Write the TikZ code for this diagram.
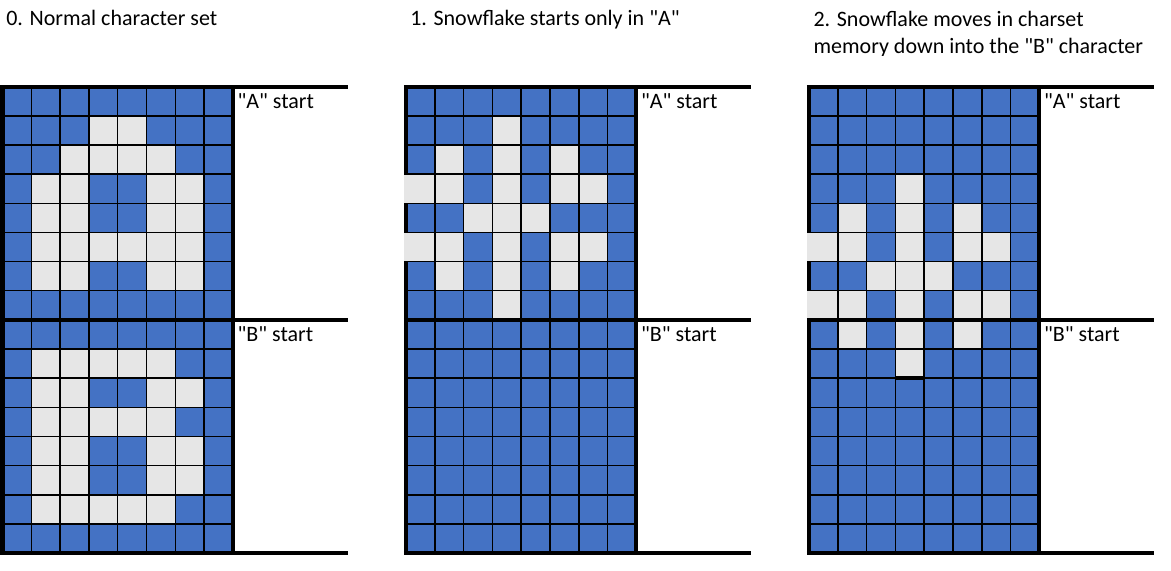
\documentclass[tikz,border=0pt]{standalone}
\usepackage{fontspec}
\newfontfamily\carl{Carlito}
\definecolor{cblue}{HTML}{4472C4}
\definecolor{clight}{HTML}{E6E6E6}
\newcommand\cw{28.8}
\newcommand\ch{29.15}
\newcommand\gtop{86.7}
\newcommand\lcell[3]{%
  \pgfmathsetmacro\xa{#1+#2*\cw-(#2==0)*2.0}%
  \pgfmathsetmacro\xb{#1+(#2+1)*\cw}%
  \pgfmathsetmacro\ya{\gtop+#3*\ch}%
  \pgfmathsetmacro\yb{\gtop+(#3+1)*\ch}%
  \fill[clight] (\xa,\ya) rectangle (\xb,\yb);}
\newcommand\gridbase[1]{%
  \fill[cblue] (#1,\gtop) rectangle ({#1+8*\cw},{\gtop+16*\ch});
  \draw[thickline] (#1,\gtop) -- (#1,{\gtop+16*\ch});}
\newcommand\gridlines[1]{%
  \foreach \c in {1,...,7} \draw[thinline] ({#1+\c*\cw},\gtop) -- ({#1+\c*\cw},{\gtop+16*\ch});
  \foreach \r in {1,...,7,9,10,...,15} \draw[thinline] ({#1-2.0},{\gtop+\r*\ch}) -- ({#1+8*\cw},{\gtop+\r*\ch});
  \foreach \r in {0,8,16} \draw[thickline] ({#1-2.2},{\gtop+\r*\ch}) -- ({#1+345},{\gtop+\r*\ch});
  \draw[thickline] ({#1+8*\cw},{\gtop-1.5}) -- ({#1+8*\cw},{\gtop+16*\ch+1.5});}
\begin{document}
\begin{tikzpicture}[x=0.75pt,y=-0.75pt,
  thinline/.style={line width=1.1pt,black},
  thickline/.style={line width=3pt,black},
  lbl/.style={anchor=base west,inner sep=0pt,font=\carl\fontsize{16.5}{20}\selectfont}]
\useasboundingbox (0,0) rectangle (1171,571);
% grid 0
\gridbase{2.5}
\foreach \c/\r in {3/1,4/1,2/2,3/2,4/2,5/2,1/3,2/3,5/3,6/3,1/4,2/4,5/4,6/4,1/5,2/5,3/5,4/5,5/5,6/5,1/6,2/6,5/6,6/6,
  1/9,2/9,3/9,4/9,5/9,1/10,2/10,5/10,6/10,1/11,2/11,3/11,4/11,5/11,1/12,2/12,5/12,6/12,1/13,2/13,5/13,6/13,1/14,2/14,3/14,4/14,5/14}
  {\lcell{2.5}{\c}{\r}}
\gridlines{2.5}
% grid 1
\gridbase{406}
\foreach \c/\r in {3/1,1/2,3/2,5/2,0/3,1/3,3/3,5/3,6/3,2/4,3/4,4/4,0/5,1/5,3/5,5/5,6/5,1/6,3/6,5/6,3/7}
  {\lcell{406}{\c}{\r}}
\gridlines{406}
% grid 2
\gridbase{809}
\foreach \c/\r in {3/1,1/2,3/2,5/2,0/3,1/3,3/3,5/3,6/3,2/4,3/4,4/4,0/5,1/5,3/5,5/5,6/5,1/6,3/6,5/6,3/7}
  {\pgfmathtruncatemacro\rr{\r+2}\lcell{809}{\c}{\rr}}
\gridlines{809}
\draw[thickline] ({809+3*\cw},{\gtop+10*\ch}) -- ({809+4*\cw},{\gtop+10*\ch});
% labels
\node[lbl] (a0) at (237.3,108) {"A" start};
\node[lbl] (b0) at (237.3,341.5) {"B" start};
\node[lbl] (a1) at (640.8,108) {"A" start};
\node[lbl] (b1) at (640.8,341.5) {"B" start};
\node[lbl] (a2) at (1043.8,108) {"A" start};
\node[lbl] (b2) at (1043.8,341.5) {"B" start};
% titles
\node[lbl] (t0) at (6,26) {0. Normal character set};
\node[lbl] (t1) at (410,26) {1. Snowflake starts only in "A"};
\begin{scope}
\clip (800,0) rectangle (1171,55.5);
\node[lbl] (t2a) at (813.3,26.5) {2. Snowflake moves in charset};
\node[lbl] (t2b) at (813.3,53.5) {memory down into the "B" character};
\end{scope}
\end{tikzpicture}
\end{document}
